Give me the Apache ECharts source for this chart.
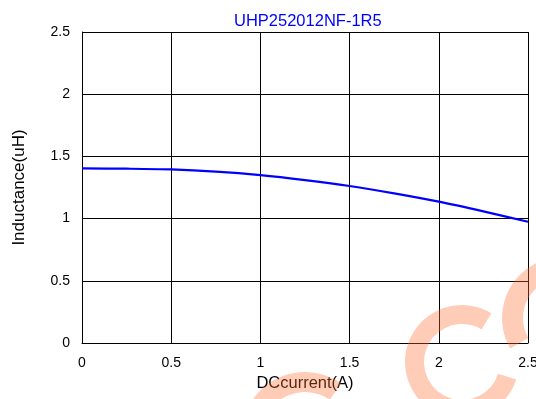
<!DOCTYPE html>
<html>
<head>
<meta charset="utf-8">
<script src="https://cdn.jsdelivr.net/npm/echarts@6/dist/echarts.min.js"></script>
<style>html,body{margin:0;padding:0;background:#fff}#c{width:536px;height:399px}</style>
</head>
<body>
<div id="c"></div>
<script>
const chartTitle = 'UHP252012NF-1R5';
const xName = 'DCcurrent(A)';
const yName = 'Inductance(uH)';
const currentA = [0, 0.25, 0.5, 0.75, 1.0, 1.25, 1.5, 1.75, 2.0, 2.25, 2.5];
const inductanceUH = [1.403, 1.401, 1.395, 1.378, 1.350, 1.310, 1.262, 1.203, 1.136, 1.058, 0.975];
const xTicks = [0, 0.5, 1, 1.5, 2, 2.5];
const yTicks = [0, 0.5, 1, 1.5, 2, 2.5];

const font = 'Arial, "Liberation Sans", sans-serif';
const deg = Math.PI / 180;
const wm = 'rgba(255,110,50,0.35)';

const chart = echarts.init(document.getElementById('c'), null, {renderer: 'canvas'});
chart.setOption({
  animation: false,
  backgroundColor: '#fff',
  title: {
    text: chartTitle, left: 229, top: 8,
    textStyle: {color: '#0000ff', fontSize: 16.5, fontWeight: 'normal', fontFamily: font}
  },
  grid: {left: 82, top: 32, width: 446, height: 311, containLabel: false, outerBoundsMode: 'none'},
  xAxis: {
    type: 'value', min: xTicks[0], max: xTicks[xTicks.length - 1], interval: 0.5,
    name: xName, nameLocation: 'middle', nameGap: 29,
    nameTextStyle: {color: '#000', fontSize: 16.5, fontFamily: font},
    axisLine: {show: true, lineStyle: {color: '#000', width: 1}},
    axisTick: {show: true, inside: true, length: 5, lineStyle: {color: '#000'}},
    axisLabel: {color: '#000', fontSize: 14, fontFamily: font, margin: 13, showMaxLabel: true, showMinLabel: true, hideOverlap: false},
    splitLine: {show: true, lineStyle: {color: '#000', width: 1}}
  },
  yAxis: {
    type: 'value', min: yTicks[0], max: yTicks[yTicks.length - 1], interval: 0.5,
    name: yName, nameLocation: 'middle', nameGap: 54,
    nameTextStyle: {color: '#000', fontSize: 17, fontFamily: font},
    axisLine: {show: true, lineStyle: {color: '#000', width: 1}},
    axisTick: {show: true, inside: true, length: 5, lineStyle: {color: '#000'}},
    axisLabel: {color: '#000', fontSize: 14, fontFamily: font, margin: 12},
    splitLine: {show: true, lineStyle: {color: '#000', width: 1}}
  },
  series: [{
    type: 'line', smooth: 0.3, symbol: 'none',
    data: currentA.map((x, i) => [x, inductanceUH[i]]),
    lineStyle: {color: '#0000ff', width: 2.2}
  }],
  graphic: [
    {type: 'sector', z: 100, silent: true,
     shape: {cx: 462, cy: 362, r: 57, r0: 38, startAngle: -59 * deg, endAngle: 18 * deg, clockwise: false},
     style: {fill: wm}},
    {type: 'sector', z: 100, silent: true,
     shape: {cx: 563, cy: 318, r: 61, r0: 40, startAngle: 150 * deg, endAngle: 300 * deg, clockwise: true},
     style: {fill: wm}},
    {type: 'sector', z: 100, silent: true,
     shape: {cx: 305, cy: 435, r: 63, r0: 43, startAngle: -55 * deg, endAngle: -250 * deg, clockwise: false},
     style: {fill: wm}}
  ]
});
</script>
</body>
</html>
